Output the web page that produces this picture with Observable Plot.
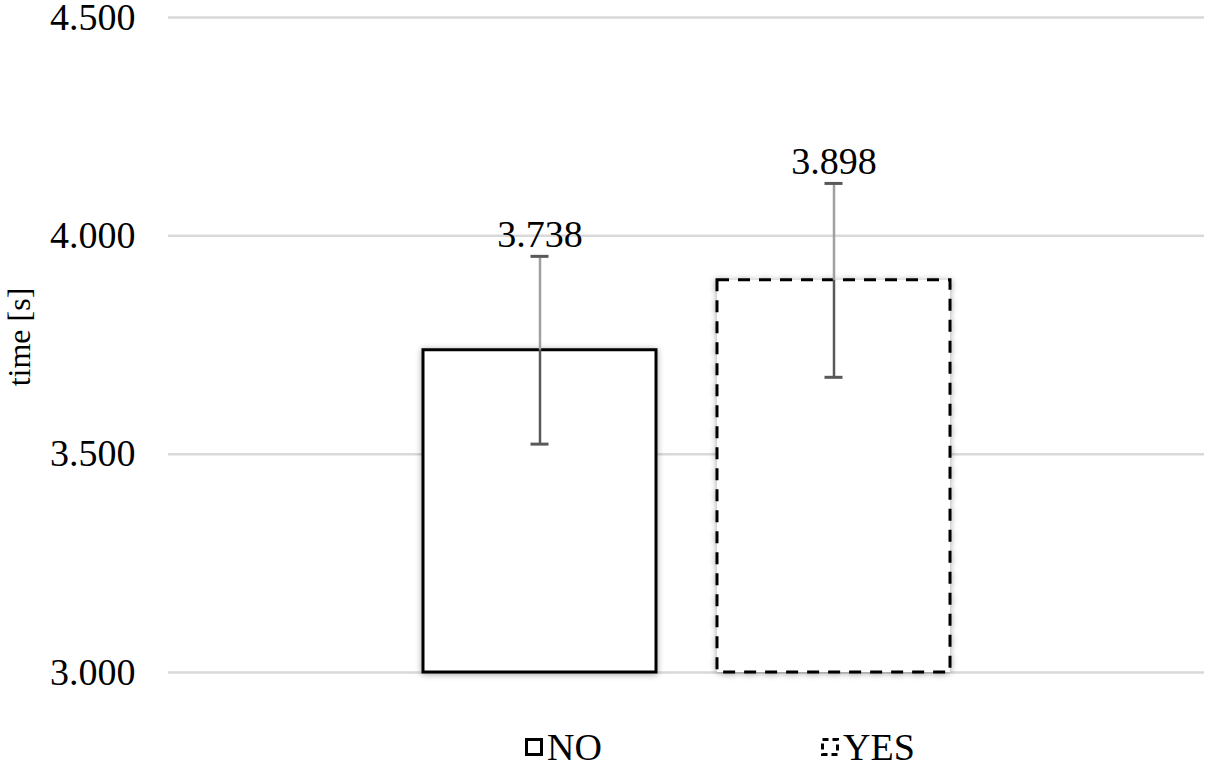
<!DOCTYPE html>
<html>
<head>
<meta charset="utf-8">
<script src="https://cdn.jsdelivr.net/npm/d3@7"></script>
<script src="https://cdn.jsdelivr.net/npm/@observablehq/plot@0.6"></script>
<style>
  html, body { margin: 0; padding: 0; background: #fff; }
  #wrap { width: 1208px; height: 767px; position: relative; overflow: hidden; font-family: "Liberation Serif", "Times New Roman", serif; }
  #legend { position: relative; width: 1208px; height: 47px; }
  .item { position: absolute; top: 6px; display: flex; align-items: center; font-size: 38px; color: #000; line-height: 42px; }
  .item svg { margin-right: 4px; }
</style>
</head>
<body>
<div id="wrap"></div>
<script>
const categories = ["NO", "YES"];
const means = [3.738, 3.898];
const errors = [0.215, 0.222];
const valueLabels = ["3.738", "3.898"];
const yTicks = [3, 3.5, 4, 4.5];
const yTickLabels = ["3.000", "3.500", "4.000", "4.500"];
const yTitle = "time [s]";

const data = categories.map((c, i) => ({
  cat: c,
  mean: means[i],
  lo: means[i] - errors[i],
  hi: means[i] + errors[i],
  label: valueLabels[i]
}));

const font = "'Liberation Serif', 'Times New Roman', serif";

const chart = Plot.plot({
  width: 1208,
  height: 720,
  marginTop: 17,
  marginBottom: 48,
  marginLeft: 168,
  marginRight: 4,
  style: { fontFamily: font, background: "#fff", color: "#000" },
  x: { domain: categories, paddingInner: 0.209, paddingOuter: 0.862, axis: null },
  y: { domain: [3, 4.5], axis: null },
  marks: [
    Plot.gridY(yTicks, { stroke: "#d9d9d9", strokeOpacity: 1, strokeWidth: 2.5 }),
    Plot.axisY(yTicks, {
      tickSize: 0,
      tickPadding: 33,
      fontSize: 38,
      tickFormat: (d) => yTickLabels[yTicks.indexOf(d)],
      label: null
    }),
    Plot.text([yTitle], {
      text: (d) => d,
      frameAnchor: "left",
      rotate: -90,
      dx: -149,
      dy: -8,
      fontSize: 32,
      textAnchor: "middle",
      lineAnchor: "middle",
      fill: "#000"
    }),
    Plot.rectY(data.filter(d => d.cat === "NO"), {
      x: "cat", y1: 3, y2: "mean",
      fill: "#fff", stroke: "#000", strokeWidth: 3
    }),
    Plot.rectY(data.filter(d => d.cat === "YES"), {
      x: "cat", y1: 3, y2: "mean",
      fill: "#fff", stroke: "#000", strokeWidth: 3, strokeDasharray: "12,9"
    }),
    Plot.ruleX(data, { x: "cat", y1: "mean", y2: "hi", stroke: "#a0a0a0", strokeWidth: 2.5 }),
    Plot.ruleX(data, { x: "cat", y1: "lo", y2: "mean", stroke: "#595959", strokeWidth: 2.5 }),
    Plot.tickY(data, { x: "cat", y: "hi", stroke: "#595959", strokeWidth: 3, insetLeft: 107.5, insetRight: 107.5 }),
    Plot.tickY(data, { x: "cat", y: "lo", stroke: "#595959", strokeWidth: 3, insetLeft: 107.5, insetRight: 107.5 }),
    Plot.text(data, {
      x: "cat", y: "hi", text: "label",
      dy: -9, lineAnchor: "bottom", textAnchor: "middle",
      fontSize: 38, fill: "#000"
    })
  ]
});

d3.select(chart).selectAll('g[aria-label="rect"] rect')
  .style("filter", "drop-shadow(0px 1px 3px rgba(0,0,0,0.35))");

const wrap = document.getElementById("wrap");
wrap.appendChild(chart);

const legend = document.createElement("div");
legend.id = "legend";
legend.innerHTML = `
  <div class="item" style="left:525px">
    <svg width="18" height="18"><rect x="1.5" y="1.5" width="15" height="15" fill="#fff" stroke="#000" stroke-width="3"/></svg>
    <span>${categories[0]}</span>
  </div>
  <div class="item" style="left:821px">
    <svg width="18" height="18"><rect x="1.5" y="1.5" width="15" height="15" fill="#fff" stroke="#000" stroke-width="3" stroke-dasharray="6,4"/></svg>
    <span>${categories[1]}</span>
  </div>`;
wrap.appendChild(legend);
</script>
</body>
</html>
